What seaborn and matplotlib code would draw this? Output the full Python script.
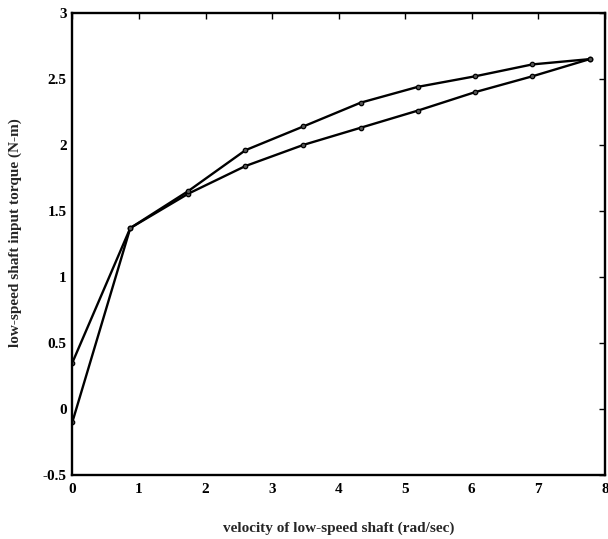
import numpy as np
import pandas as pd
import seaborn as sns
import matplotlib
matplotlib.use("Agg")
import matplotlib.pyplot as plt

# Shaft velocity samples (rad/sec)
velocity = [0.0, 0.87, 1.74, 2.60, 3.47, 4.33, 5.19, 6.05, 6.91, 7.77]
# Input torque on the rising branch (N-m)
torque_rising = [-0.10, 1.37, 1.63, 1.84, 2.00, 2.13, 2.26, 2.40, 2.52, 2.65]
# Input torque on the returning branch (N-m)
torque_return = [0.35, 1.37, 1.65, 1.96, 2.14, 2.32, 2.44, 2.52, 2.61, 2.65]

xticks = [0, 1, 2, 3, 4, 5, 6, 7, 8]
yticks = [-0.5, 0, 0.5, 1, 1.5, 2, 2.5, 3]
ytick_labels = ["-0.5", "0", "0.5", "1", "1.5", "2", "2.5", "3"]

df = pd.DataFrame({
    "velocity": velocity + velocity,
    "torque": torque_rising + torque_return,
    "branch": ["rising"] * len(velocity) + ["return"] * len(velocity),
})

sns.set_style("white")
plt.rcParams["font.family"] = ["Liberation Serif", "DejaVu Serif"]
plt.rcParams["font.weight"] = "bold"

fig = plt.figure(figsize=(6.08, 5.39), dpi=100)
ax = fig.add_axes([0.119, 0.119, 0.876, 0.857])

for name in ["rising", "return"]:
    sub = df[df["branch"] == name]
    sns.lineplot(data=sub, x="velocity", y="torque", sort=False, ax=ax,
                 color="black", linewidth=1.7, marker="o", markersize=3.2,
                 markerfacecolor="#555555", markeredgecolor="black",
                 markeredgewidth=0.9)

ax.set_xlim(0, 8)
ax.set_ylim(-0.5, 3)
ax.set_xticks(xticks)
ax.set_yticks(yticks)
ax.set_yticklabels(ytick_labels)
ax.tick_params(direction="in", length=4, width=1.0, top=True, right=True,
               labelsize=11, colors="black")
ax.tick_params(axis="x", pad=6)
ax.tick_params(axis="y", pad=4)
for lbl in ax.get_xticklabels() + ax.get_yticklabels():
    lbl.set_fontweight("bold")
for sp in ax.spines.values():
    sp.set_color("black")
    sp.set_linewidth(1.7)

ax.set_xlabel("velocity of low-speed shaft (rad/sec)", fontsize=11,
              fontweight="bold")
ax.set_ylabel("low-speed shaft input torque (N-m)", fontsize=11,
              fontweight="bold")
ax.xaxis.set_label_coords(0.5, -0.1)
ax.yaxis.set_label_coords(-0.095, 0.525)

fig.savefig("out.png", dpi=100, facecolor="white")
